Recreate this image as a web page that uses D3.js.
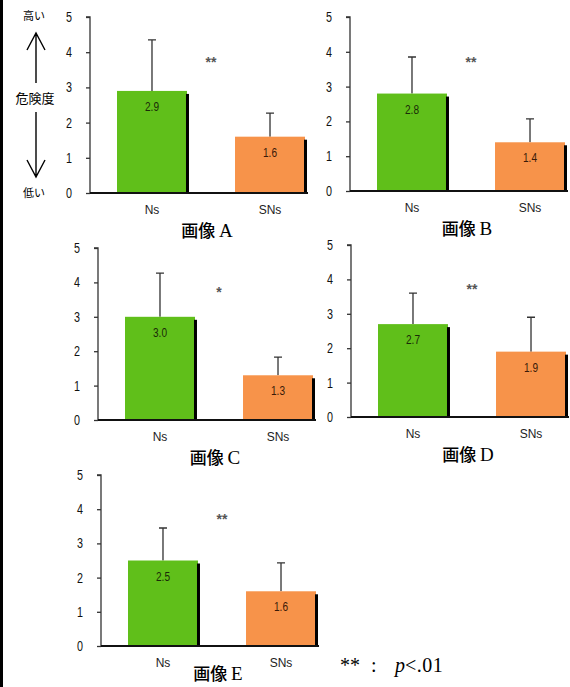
<!DOCTYPE html>
<html>
<head>
<meta charset="utf-8">
<script src="https://cdn.jsdelivr.net/npm/d3@7"></script>
<style>
  body { margin: 0; background: #fff; }
  svg { display: block; }
</style>
</head>
<body>
<div id="chart-area"></div>
<script>
/*
*    five small bar charts: Ns vs SNs
*/
var panels = ["A", "B", "C", "D", "E"];
var categories = ["Ns", "SNs"];
var nsMeans = [2.9, 2.8, 3.0, 2.7, 2.5];
var snsMeans = [1.6, 1.4, 1.3, 1.9, 1.6];
var nsSD = [1.45, 1.05, 1.27, 0.9, 0.95];
var snsSD = [0.67, 0.67, 0.53, 1.0, 0.83];
var marks = ["**", "**", "*", "**", "**"];
var yTicks = [0, 1, 2, 3, 4, 5];

// where each small chart sits on the page
var layout = [
  { x: 90, top: 17, bottom: 193 },
  { x: 350, top: 17, bottom: 191 },
  { x: 98, top: 248, bottom: 420 },
  { x: 351, top: 245, bottom: 417 },
  { x: 101, top: 475, bottom: 646 }
];

var colors = { Ns: "#60bf1a", SNs: "#f7934a" };
var tickFont = "'Liberation Sans', Arial, sans-serif";
var jpFont = "'Noto Sans CJK JP', sans-serif";

var svg = d3.select("#chart-area")
  .append("svg")
  .attr("width", 570)
  .attr("height", 687);

svg.append("rect")
  .attr("width", 570)
  .attr("height", 687)
  .attr("fill", "#fff");

// black strip on the left edge
svg.append("rect")
  .attr("x", 0)
  .attr("y", 0)
  .attr("width", 3)
  .attr("height", 687)
  .attr("fill", "#000");

panels.forEach(function(name, i) {
  var L = layout[i];
  var g = svg.append("g");

  var y = d3.scaleLinear()
    .domain([0, 5])
    .range([L.bottom, L.top]);

  var x = d3.scaleBand()
    .domain(categories)
    .range([L.x + 27, L.x + 27 + 188])
    .paddingInner(0.407);

  var rows = [
    { cat: "Ns", mean: nsMeans[i], sd: nsSD[i] },
    { cat: "SNs", mean: snsMeans[i], sd: snsSD[i] }
  ];

  // y axis
  var yAxis = d3.axisLeft(y)
    .tickValues(yTicks)
    .tickFormat(d3.format("d"))
    .tickSize(4)
    .tickPadding(14);

  var ya = g.append("g")
    .attr("transform", "translate(" + L.x + ",0)")
    .call(yAxis);
  ya.select(".domain")
    .attr("d", "M-4," + y(5) + "H0V" + y(0))
    .attr("stroke", "#333")
    .attr("stroke-width", 1.3);
  ya.selectAll(".tick line")
    .attr("stroke", "#333")
    .attr("stroke-width", 1.3);
  // narrow digits like the original
  ya.selectAll(".tick text")
    .attr("font-family", tickFont)
    .attr("font-size", "14px")
    .attr("textLength", 6)
    .attr("lengthAdjust", "spacingAndGlyphs")
    .attr("fill", "#111");

  // error bars
  g.selectAll(".err")
    .data(rows)
    .enter()
    .append("path")
    .attr("d", function(d) {
      var cx = x(d.cat) + x.bandwidth() / 2;
      return "M" + cx + "," + y(d.mean) + "V" + y(d.mean + d.sd) +
        "M" + (cx - 4) + "," + y(d.mean + d.sd) + "H" + (cx + 4);
    })
    .attr("fill", "none")
    .attr("stroke", "#333")
    .attr("stroke-width", 1.3);

  // bars
  g.selectAll(".bar")
    .data(rows)
    .enter()
    .append("rect")
    .attr("x", function(d) { return x(d.cat); })
    .attr("y", function(d) { return y(d.mean); })
    .attr("width", x.bandwidth())
    .attr("height", function(d) { return y(0) - y(d.mean); })
    .attr("fill", function(d) { return colors[d.cat]; });

  // dark shadow on the right side of each bar
  g.selectAll(".shadow")
    .data(rows)
    .enter()
    .append("rect")
    .attr("x", function(d) { return x(d.cat) + x.bandwidth() - 1; })
    .attr("y", function(d) { return y(d.mean) + 3; })
    .attr("width", 3)
    .attr("height", function(d) { return y(0) - y(d.mean) - 3; })
    .attr("fill", "#000");

  // value labels
  g.selectAll(".val")
    .data(rows)
    .enter()
    .append("text")
    .attr("x", function(d) { return x(d.cat) + x.bandwidth() / 2; })
    .attr("y", function(d) { return y(d.mean) + 20; })
    .attr("text-anchor", "middle")
    .attr("font-family", tickFont)
    .attr("font-size", "12px")
    .attr("textLength", 14)
    .attr("lengthAdjust", "spacingAndGlyphs")
    .attr("fill", function(d) { return d.cat === "Ns" ? "#1a2a08" : "#3a1a08"; })
    .text(function(d) { return d3.format(".1f")(d.mean); });

  // x axis line
  g.append("line")
    .attr("x1", L.x)
    .attr("x2", x.range()[1] + 3)
    .attr("y1", y(0))
    .attr("y2", y(0))
    .attr("stroke", "#111")
    .attr("stroke-width", 2);

  // category labels
  g.selectAll(".cat")
    .data(categories)
    .enter()
    .append("text")
    .attr("x", function(d) { return x(d) + x.bandwidth() / 2; })
    .attr("y", y(0) + 21)
    .attr("text-anchor", "middle")
    .attr("font-family", tickFont)
    .attr("font-size", "12px")
    .attr("fill", "#222")
    .text(function(d) { return d; });

  // significance mark
  var mid = (x("Ns") + x("SNs") + x.bandwidth()) / 2;
  g.append("text")
    .attr("x", mid)
    .attr("y", y(3.75) + 6)
    .attr("text-anchor", "middle")
    .attr("font-family", tickFont)
    .attr("font-size", "14px")
    .attr("font-weight", "bold")
    .attr("fill", "#555")
    .text(marks[i]);

  // panel title
  var title = g.append("text")
    .attr("x", mid - 4)
    .attr("y", Math.min(y(0) + 44, 680))
    .attr("text-anchor", "middle")
    .attr("fill", "#000");
  title.append("tspan")
    .attr("font-family", jpFont)
    .attr("font-size", "17px")
    .attr("font-weight", "500")
    .text("画像 ");
  title.append("tspan")
    .attr("font-family", "'Liberation Serif', 'Times New Roman', serif")
    .attr("font-size", "19px")
    .text(name);
});

// left side annotation: high / risk / low
var note = svg.append("g");
note.append("text")
  .attr("x", 34)
  .attr("y", 20)
  .attr("text-anchor", "middle")
  .attr("font-family", jpFont)
  .attr("font-size", "11px")
  .text("高い");
note.append("text")
  .attr("x", 35)
  .attr("y", 103)
  .attr("text-anchor", "middle")
  .attr("font-family", jpFont)
  .attr("font-size", "13px")
  .text("危険度");
note.append("text")
  .attr("x", 34)
  .attr("y", 197)
  .attr("text-anchor", "middle")
  .attr("font-family", jpFont)
  .attr("font-size", "11px")
  .text("低い");

note.append("path")
  .attr("d", "M36,83V33M27,50L36,33L45,50")
  .attr("fill", "none")
  .attr("stroke", "#000")
  .attr("stroke-width", 1.4);
note.append("path")
  .attr("d", "M36,112V177M27,160L36,177L45,160")
  .attr("fill", "none")
  .attr("stroke", "#000")
  .attr("stroke-width", 1.4);

// footnote
var foot = svg.append("text")
  .attr("y", 672)
  .attr("font-family", "'Liberation Serif', 'Times New Roman', serif")
  .attr("font-size", "20px")
  .attr("fill", "#000");
foot.append("tspan").attr("x", 340).text("**");
foot.append("tspan").attr("x", 371).text(":");
foot.append("tspan").attr("x", 395).attr("font-style", "italic").text("p");
foot.append("tspan").attr("letter-spacing", "0.5px").text("<.01");
</script>
</body>
</html>
